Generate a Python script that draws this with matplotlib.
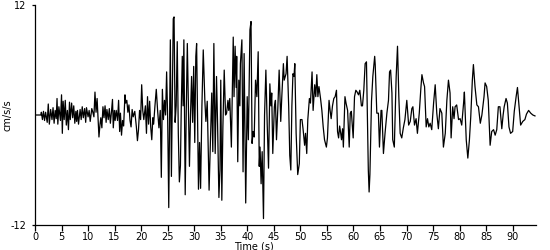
import numpy as np
import matplotlib
matplotlib.use("Agg")
import matplotlib.pyplot as plt

# turning points of the trace (time in s, accel in cm/s/s)
time_s = [
    0.0, 1.1, 1.2, 1.4, 1.6, 1.8, 2.0, 2.3, 2.5, 2.7, 2.95, 3.2, 3.4, 3.6, 3.8, 4.0,
    4.15, 4.3, 4.5, 4.8, 5.0, 5.15, 5.3, 5.5, 5.7, 5.9, 6.1, 6.3, 6.5, 6.65, 6.9, 7.1,
    7.3, 7.5, 7.7, 7.85, 8.0, 8.2, 8.5, 8.7, 8.9, 9.1, 9.35, 9.55, 9.7, 10.0, 10.2, 10.4,
    10.7, 10.9, 11.1, 11.3, 11.5, 11.7, 11.9, 12.05, 12.25, 12.4, 12.6, 12.8, 13.0, 13.2,
    13.4, 13.55, 13.8, 14.0, 14.2, 14.4, 14.6, 14.75, 14.95, 15.1, 15.3, 15.55, 15.75, 15.95,
    16.1, 16.3, 16.5, 16.7, 16.95, 17.1, 17.3, 17.5, 17.7, 17.9, 18.1, 18.3, 18.5, 18.8,
    19.1, 19.3, 19.5, 19.7, 19.9, 20.1, 20.3, 20.5, 20.8, 21.0, 21.2, 21.4, 21.6, 21.8,
    22.0, 22.2, 22.35, 22.6, 22.85, 23.1, 23.35, 23.6, 23.8, 24.0, 24.2, 24.4, 24.6, 24.8,
    25.0, 25.2, 25.5, 25.7, 25.85, 26.05, 26.2, 26.4, 26.6, 26.8, 27.0, 27.2, 27.4, 27.55,
    27.75, 27.9, 28.05, 28.3, 28.5, 28.7, 28.9, 29.1, 29.3, 29.5, 29.7, 29.9, 30.1, 30.3,
    30.45, 30.6, 30.8, 31.0, 31.2, 31.45, 31.7, 32.0, 32.2, 32.45, 32.8, 33.0, 33.3, 33.5,
    33.7, 33.95, 34.2, 34.4, 34.65, 34.85, 35.0, 35.2, 35.4, 35.65, 35.9, 36.1, 36.35, 36.5,
    36.7, 37.0, 37.35, 37.5, 37.7, 37.9, 38.0, 38.2, 38.4, 38.6, 38.7, 38.98, 39.2, 39.4,
    39.7, 39.98, 40.2, 40.5, 40.7, 40.9, 41.1, 41.3, 41.55, 41.8, 42.05, 42.25, 42.4, 42.6,
    42.8, 43.05, 43.25, 43.5, 43.75, 44.0, 44.25, 44.45, 44.6, 44.8, 45.1, 45.3, 45.5, 45.75,
    46.0, 46.3, 46.5, 46.8, 46.95, 47.3, 47.5, 47.8, 48.0, 48.2, 48.4, 48.6, 48.8, 48.95,
    49.2, 49.5, 49.8, 50.0, 50.3, 50.5, 50.8, 50.97, 51.2, 51.4, 51.7, 51.9, 52.2, 52.4,
    52.7, 52.9, 53.1, 53.3, 53.5, 53.8, 54.05, 54.3, 54.55, 54.9, 55.1, 55.4, 55.6, 55.8,
    56.05, 56.3, 56.55, 56.8, 57.0, 57.2, 57.4, 57.6, 57.75, 57.95, 58.1, 58.4, 58.6, 58.9,
    59.2, 59.4, 59.6, 59.95, 60.2, 60.45, 60.7, 60.95, 61.2, 61.5, 61.7, 61.95, 62.2, 62.45,
    62.55, 62.8, 62.95, 63.1, 63.4, 63.65, 64.0, 64.1, 64.4, 64.7, 64.9, 65.2, 65.35, 65.65,
    65.95, 66.3, 66.6, 66.8, 67.0, 67.25, 67.4, 67.7, 68.05, 68.3, 68.55, 68.8, 69.1, 69.4,
    69.7, 70.05, 70.4, 70.7, 71.0, 71.2, 71.5, 71.8, 72.05, 72.4, 72.7, 72.9, 73.2, 73.4,
    73.7, 73.95, 74.2, 74.45, 74.75, 75.1, 75.4, 75.7, 76.0, 76.3, 76.65, 76.95, 77.3, 77.6,
    77.9, 78.2, 78.4, 78.7, 78.95, 79.15, 79.45, 79.8, 80.1, 80.4, 80.75, 80.9, 81.25, 81.55,
    81.85, 82.1, 82.4, 82.6, 82.9, 83.25, 83.55, 83.9, 84.2, 84.6, 84.8, 85.1, 85.4, 85.75,
    86.05, 86.4, 86.7, 87.0, 87.3, 87.6, 87.95, 88.2, 88.4, 88.75, 89.0, 89.3, 89.6, 90.0,
    90.3, 90.65, 90.9, 91.2, 91.5, 91.9, 92.3, 92.6, 93.0, 93.4, 93.8, 94.2,
]
accel = [
    0.0, 0.0, 0.3, -0.5, 0.4, -0.6, 0.3, -0.8, 1.2, -1.0, 0.6, -0.5, 0.8, -0.9, 0.5, -0.4,
    1.8, -1.0, 0.9, -0.6, 2.2, -2.0, 1.5, -0.5, 1.6, -1.1, 0.5, -1.6, 1.4, -0.5, 1.3, -0.3,
    1.0, -0.9, 0.4, -0.7, 0.5, -1.0, 0.6, -0.5, 0.9, -0.3, 0.7, -0.8, 0.8, -0.2, 0.5, -0.7,
    0.7, 0.3, -0.2, 2.5, 0.3, 1.8, -0.5, -2.4, -1.0, -0.3, -1.4, 0.9, -0.3, 1.0,
    -0.8, 0.6, -0.5, 0.7, -0.9, 0.3, 1.7, -1.4, 0.5, -0.6, 0.5, -0.6, 1.6, -1.8,
    0.2, -2.2, -0.6, -1.2, 2.2, 1.3, 1.6, 0.3, 1.1, -0.6, -1.3, 0.6, -0.2, 0.4,
    -1.3, -2.8, -1.6, 0.5, -0.5, 3.3, 0.5, -0.5, 1.0, -2.0, 2.0, -1.0, 1.5, -1.3,
    -2.7, -0.3, -1.0, 1.0, 2.8, 0.5, -1.4, 0.5, -6.8, 2.8, -0.5, 1.6, 0.0, 4.7,
    -0.5, -10.1, 8.2, -6.7, 0.5, 10.5, 10.7, -0.8, 1.0, 8.0, -2.0, -7.3, -5.5, 0.5,
    6.4, 1.0, 8.2, -8.7, 0.5, 7.8, 1.0, -5.6, 0.0, 4.2, -0.8, 5.3, -3.0, 6.4,
    7.8, 1.0, -8.1, -3.0, -8.0, 1.0, 7.1, 1.6, -0.7, 1.5, -8.2, -4.0, 2.4, -4.0,
    7.8, -4.2, 4.2, -1.0, -9.0, -6.0, 3.8, -9.3, -1.3, 4.9, 0.0, 0.2, 1.6, 0.5,
    1.8, -3.5, 8.5, 2.0, 7.5, 3.0, 6.4, -5.1, 3.8, 1.0, 5.6, 8.2, -6.2, 6.7,
    -9.6, 2.0, -2.7, 9.3, 10.2, -3.1, -1.8, -2.4, 3.8, 2.0, 6.9, -5.6, -3.5, -7.5,
    -4.0, -11.3, 0.0, 4.9, -1.0, -5.8, 3.4, 1.0, 2.4, -4.2, 0.9, 1.6, -2.7, 0.7,
    4.9, -0.7, 2.0, 5.6, 3.8, 4.5, 6.4, 0.9, -4.4, -6.0, 1.0, 4.5, 4.2, 5.6,
    -2.0, -6.5, -5.3, -0.5, -0.5, -1.5, -3.3, -2.0, -4.2, -0.5, 1.8, 1.3, 4.7, 0.5,
    3.3, 2.0, 4.4, 2.0, 3.1, 1.8, 0.5, -1.3, -2.7, -3.5, -2.5, 1.6, 0.5, -0.4,
    1.0, 1.8, 2.0, 2.7, -1.8, -2.5, -1.2, -2.0, -2.7, -1.5, -3.5, 2.0, 1.3, 0.5,
    -3.5, 0.2, 0.4, -2.5, 2.0, 2.7, 2.5, 2.2, 2.7, 1.0, 1.0, 2.7, 5.6, 5.8,
    2.5, -6.0, -8.4, -6.5, 1.5, 4.2, 6.4, 5.5, 0.2, 0.2, -3.5, 0.5, 0.5, -4.2,
    -2.0, 0.2, 1.6, 4.7, 4.9, 2.4, -2.7, -3.5, 4.2, 7.5, 2.0, -2.0, -2.5, -1.4,
    -0.5, 1.6, -1.1, -0.7, 0.7, 0.9, -1.1, -0.4, -2.0, 0.2, 2.9, 4.4, 3.5, 3.1,
    -1.3, -0.4, -1.3, -0.9, -1.6, 1.3, 3.3, 0.2, -1.5, 0.7, 0.2, -3.5, -2.0, 1.6,
    3.8, 2.4, -2.5, 0.9, -0.4, 0.9, 1.1, -0.5, -0.4, -1.1, 1.3, 2.5, -2.7, -4.7,
    -2.7, -0.2, 3.8, 5.5, 3.1, 1.1, 0.9, -0.9, 0.0, 2.0, 3.5, 3.1, 1.6, -3.3,
    -1.8, -1.6, -2.2, -1.6, 0.9, 0.9, -1.5, 0.0, 0.9, 1.8, 1.3, -1.3, -2.0, -1.8,
    0.4, 2.0, 3.0, 0.9, -1.1, -0.7, -0.5, 0.1, 0.5, 0.2, 0.0, -0.1,
]

x_ticks = np.arange(0, 95, 5)

fig = plt.figure(figsize=(5.5, 2.5), dpi=100)
ax = fig.add_axes([35 / 550, 25 / 250, 500.5 / 550, 220 / 250])

ax.plot(time_s, accel, color="black", linewidth=0.9)

ax.set_xlim(0, 94.3)
ax.set_ylim(-12, 12)
ax.set_xticks(x_ticks)
ax.set_xticklabels([str(v) for v in x_ticks])
ax.set_yticks([-12, 12])
ax.set_yticklabels(["-12", "12"])

for side in ["top", "right"]:
    ax.spines[side].set_visible(False)
for side in ["left", "bottom"]:
    ax.spines[side].set_linewidth(0.9)

ax.tick_params(axis="x", length=4, width=0.9, pad=1, labelsize=7)
ax.tick_params(axis="y", length=2, width=0.9, pad=4, labelsize=7)

ax.set_ylabel("cm/s/s", fontsize=7)
ax.yaxis.set_label_coords(-0.045, 0.5)
ax.set_xlabel("Time (s)", fontsize=7)
ax.xaxis.set_label_coords(0.438, -0.075)

fig.savefig("out.png", dpi=100)
